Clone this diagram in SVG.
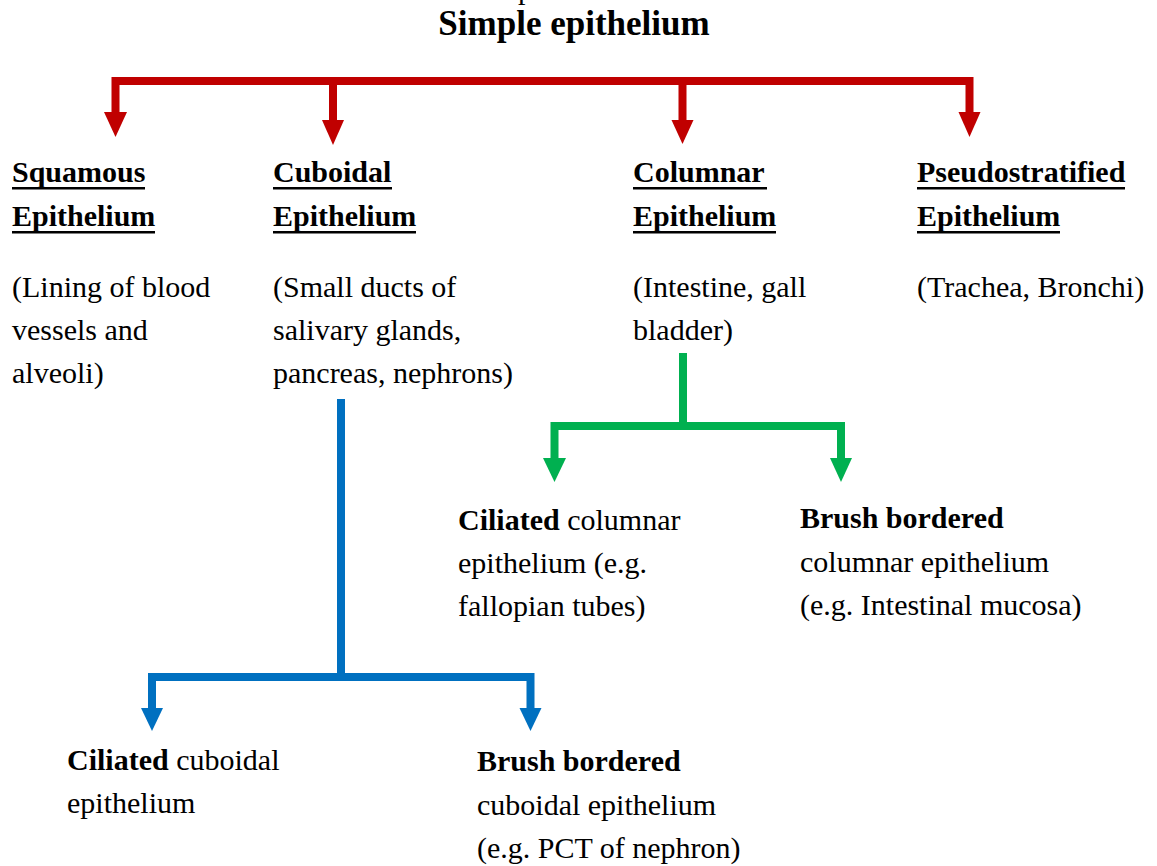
<svg xmlns="http://www.w3.org/2000/svg" width="1157" height="866" viewBox="0 0 1157 866" font-family="'Liberation Serif', 'Times New Roman', 'DejaVu Serif', serif">
<style>
text{font-family:'Liberation Serif','Times New Roman','DejaVu Serif',serif;font-size:30px;fill:#000}
.title{font-size:35px;font-weight:bold}
.b{font-weight:bold}
.ul{fill:#000}
.red{stroke:#C00000;stroke-width:8;fill:none;stroke-linejoin:miter;stroke-linecap:butt}
.redh{fill:#C00000}
.green{stroke:#00B050;stroke-width:8;fill:none;stroke-linejoin:miter;stroke-linecap:butt}
.greenh{fill:#00B050}
.blue{stroke:#0070C0;stroke-width:8;fill:none;stroke-linejoin:miter;stroke-linecap:butt}
.blueh{fill:#0070C0}
</style>
<rect width="1157" height="866" fill="#fff"/>
<text x="518" y="-1">p</text>
<g id="title"><text class="title" x="574" y="35" text-anchor="middle">Simple epithelium</text></g>
<g id="connectors">
<path class="red" d="M115.5,112 V81 H969.5 V112 M333,81 V120 M682.5,81 V120"/>
<polygon class="redh" points="104,112 127,112 115.5,137"/>
<polygon class="redh" points="322,120 344,120 333,145"/>
<polygon class="redh" points="671.5,120 693.5,120 682.5,144"/>
<polygon class="redh" points="958.5,112 980.5,112 969.5,137"/>
<path class="green" d="M683,353 V426 M554.5,458 V426 H841 V458"/>
<polygon class="greenh" points="543,458 566,458 554.5,482"/>
<polygon class="greenh" points="830,458 852,458 841,482"/>
<path class="blue" d="M341,399 V677 M152,708 V677 H530.5 V708"/>
<polygon class="blueh" points="141,708 163,708 152,731"/>
<polygon class="blueh" points="519.5,708 541.5,708 530.5,731"/>
</g>
<g id="squamous">
<text class="b" x="12" y="182">Squamous</text>
<rect class="ul" x="12" y="187" width="133" height="2.5"/>
<text class="b" x="12" y="226">Epithelium</text>
<rect class="ul" x="12" y="231" width="143" height="2.5"/>
<text x="12" y="297">(Lining of blood</text>
<text x="12" y="340">vessels and</text>
<text x="12" y="383">alveoli)</text>
</g>
<g id="cuboidal">
<text class="b" x="273" y="182">Cuboidal</text>
<rect class="ul" x="273" y="187" width="119" height="2.5"/>
<text class="b" x="273" y="226">Epithelium</text>
<rect class="ul" x="273" y="231" width="143" height="2.5"/>
<text x="273" y="297">(Small ducts of</text>
<text x="273" y="340">salivary glands,</text>
<text x="273" y="383">pancreas, nephrons)</text>
</g>
<g id="columnar">
<text class="b" x="633" y="182">Columnar</text>
<rect class="ul" x="633" y="187" width="134" height="2.5"/>
<text class="b" x="633" y="226">Epithelium</text>
<rect class="ul" x="633" y="231" width="143" height="2.5"/>
<text x="633" y="297">(Intestine, gall</text>
<text x="633" y="340">bladder)</text>
</g>
<g id="pseudostratified">
<text class="b" x="917" y="182">Pseudostratified</text>
<rect class="ul" x="917" y="187" width="208" height="2.5"/>
<text class="b" x="917" y="226">Epithelium</text>
<rect class="ul" x="917" y="231" width="143" height="2.5"/>
<text x="917" y="297">(Trachea, Bronchi)</text>
</g>
<g id="ciliated-columnar">
<text x="458" y="530"><tspan class="b">Ciliated</tspan> columnar</text>
<text x="458" y="573">epithelium (e.g.</text>
<text x="458" y="616">fallopian tubes)</text>
</g>
<g id="brush-columnar">
<text class="b" x="800" y="528">Brush bordered</text>
<text x="800" y="572">columnar epithelium</text>
<text x="800" y="615">(e.g. Intestinal mucosa)</text>
</g>
<g id="ciliated-cuboidal">
<text x="67" y="770"><tspan class="b">Ciliated</tspan> cuboidal</text>
<text x="67" y="813">epithelium</text>
</g>
<g id="brush-cuboidal">
<text class="b" x="477" y="771">Brush bordered</text>
<text x="477" y="815">cuboidal epithelium</text>
<text x="477" y="858">(e.g. PCT of nephron)</text>
</g>
</svg>
